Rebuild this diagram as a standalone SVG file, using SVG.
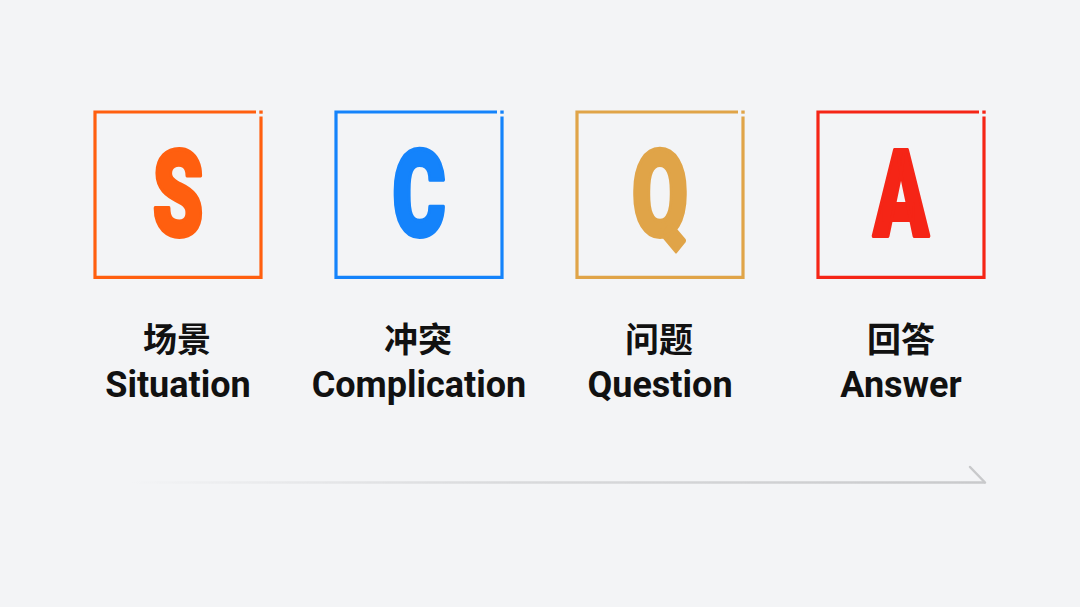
<svg xmlns="http://www.w3.org/2000/svg" width="1080" height="607" viewBox="0 0 1080 607">
<style>
.frame{fill:none;stroke-width:3.2;stroke-linejoin:miter}
.big{font-family:Roboto,"Liberation Sans",sans-serif;font-weight:900;font-size:120px;text-anchor:middle;stroke-width:4;stroke-linejoin:round}
.cn{font-family:"Noto Sans CJK SC","Noto Sans",sans-serif;font-weight:700;font-size:34px;fill:#111;text-anchor:middle}
.en{font-family:Roboto,"Liberation Sans",sans-serif;font-weight:700;font-size:36px;fill:#111;text-anchor:middle}
</style>
<defs>
<linearGradient id="fade" x1="130" y1="0" x2="985" y2="0" gradientUnits="userSpaceOnUse">
<stop offset="0" stop-color="#cfd0d2" stop-opacity="0"/>
<stop offset="0.45" stop-color="#d2d3d5" stop-opacity="0.8"/>
<stop offset="1" stop-color="#c8c9cb"/>
</linearGradient>
</defs>
<rect width="1080" height="607" fill="#f3f4f6"/>

<g id="node-s">
<path class="frame" stroke="#ff5f0f" d="M256 112 H95 V277.3 H261 V116.5"/>
<rect x="259.3" y="110.5" width="3.4" height="3.2" fill="#ff5f0f"/>
<text class="big" fill="#ff5f0f" stroke="#ff5f0f" transform="translate(178,236) scale(0.68,1)">S</text>
<text class="cn" x="177" y="352">场景</text>
<text class="en" x="178" y="397">Situation</text>
</g>

<g id="node-c">
<path class="frame" stroke="#1483fb" d="M497 112 H336 V277.3 H502 V116.5"/>
<rect x="500.3" y="110.5" width="3.4" height="3.2" fill="#1483fb"/>
<text class="big" fill="#1483fb" stroke="#1483fb" transform="translate(419,236) scale(0.68,1)">C</text>
<text class="cn" x="418" y="352">冲突</text>
<text class="en" x="419" y="397">Complication</text>
</g>

<g id="node-q">
<path class="frame" stroke="#e0a448" d="M738 112 H577 V277.3 H743 V116.5"/>
<rect x="741.3" y="110.5" width="3.4" height="3.2" fill="#e0a448"/>
<text class="big" fill="#e0a448" stroke="#e0a448" transform="translate(660,236) scale(0.68,1)">Q</text>
<text class="cn" x="659" y="352">问题</text>
<text class="en" x="660" y="397">Question</text>
</g>

<g id="node-a">
<path class="frame" stroke="#f52516" d="M979 112 H818 V277.3 H984 V116.5"/>
<rect x="982.3" y="110.5" width="3.4" height="3.2" fill="#f52516"/>
<text class="big" fill="#f52516" stroke="#f52516" transform="translate(901,236) scale(0.68,1)">A</text>
<text class="cn" x="901" y="352">回答</text>
<text class="en" x="901" y="397">Answer</text>
</g>

<g id="connectors">
<path d="M130 482.5 H985" stroke="url(#fade)" stroke-width="2.5" fill="none"/>
<path d="M970 467 L985 482.5" stroke="#c8c9cb" stroke-width="2.5" fill="none" stroke-linecap="round"/>
</g>
</svg>
